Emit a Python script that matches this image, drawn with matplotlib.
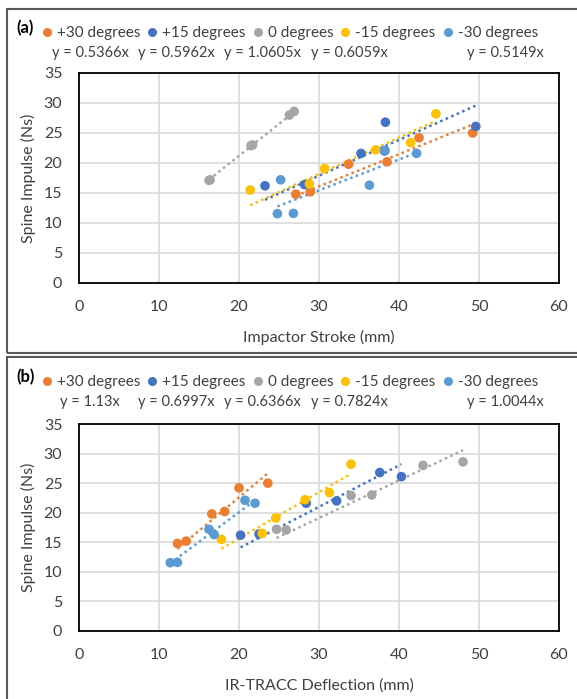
import matplotlib
matplotlib.use("Agg")
import matplotlib.pyplot as plt
from matplotlib.lines import Line2D
from matplotlib.patches import Rectangle

plt.rcParams['font.family'] = ['Lato', 'DejaVu Sans']

# series names and colours (Office palette)
series = ['+30 degrees', '+15 degrees', '0 degrees', '-15 degrees', '-30 degrees']
colors = ['#ED7D31', '#4472C4', '#A5A5A5', '#FFC000', '#5B9BD5']

# spine impulse (Ns) per test, same tests in both panels
impulse_p30 = [14.8, 15.2, 19.8, 20.2, 24.2, 25.0]
impulse_p15 = [16.2, 16.4, 21.6, 22.0, 26.8, 26.1]
impulse_0 = [17.2, 17.1, 22.9, 23.0, 28.0, 28.6]
impulse_m15 = [15.5, 16.5, 19.1, 22.2, 23.4, 28.2]
impulse_m30 = [11.55, 11.6, 17.2, 16.3, 22.1, 21.6]

# impactor stroke (mm)
stroke_p30 = [27.1, 28.9, 33.7, 38.5, 42.5, 49.2]
stroke_p15 = [23.25, 28.2, 35.25, 38.2, 38.3, 49.6]
stroke_0 = [16.4, 16.25, 21.5, 21.7, 26.3, 26.9]
stroke_m15 = [21.4, 28.8, 30.7, 37.1, 41.45, 44.6]
stroke_m30 = [24.8, 26.8, 25.2, 36.3, 38.25, 42.2]

# IR-TRACC deflection (mm)
defl_p30 = [12.3, 13.4, 16.6, 18.2, 20.0, 23.6]
defl_p15 = [20.2, 22.5, 28.4, 32.2, 37.6, 40.3]
defl_0 = [24.7, 25.9, 34.0, 36.6, 43.0, 48.0]
defl_m15 = [17.8, 22.9, 24.6, 28.25, 31.3, 34.0]
defl_m30 = [11.4, 12.3, 16.25, 16.9, 20.75, 22.0]

# fitted slopes (trendline through origin)
slopes_a = [0.5366, 0.5962, 1.0605, 0.6059, 0.5149]
slopes_b = [1.13, 0.6997, 0.6366, 0.7824, 1.0044]

impulses = [impulse_p30, impulse_p15, impulse_0, impulse_m15, impulse_m30]
strokes = [stroke_p30, stroke_p15, stroke_0, stroke_m15, stroke_m30]
defls = [defl_p30, defl_p15, defl_0, defl_m15, defl_m30]

W, H = 577, 699
fig = plt.figure(figsize=(W / 100, H / 100), dpi=100)


def fx(px):
    return px / W


def fy(py):
    return 1 - py / H


def panel(tag, top, ax_top, ax_bot, box_top, box_bot, xs, slopes, eq_x, xlabel, xlabel_y):
    # outer chart frame
    fig.patches.append(Rectangle((fx(7), fy(box_bot)), fx(590) - fx(7), fy(box_top) - fy(box_bot),
                                 transform=fig.transFigure, fill=False,
                                 edgecolor='#595959', linewidth=1.5))
    ax = fig.add_axes([fx(79), fy(ax_bot), fx(559) - fx(79), fy(ax_top) - fy(ax_bot)])
    ax.set_xlim(0, 60)
    ax.set_ylim(0, 35)
    ax.set_xticks(range(0, 61, 10))
    ax.set_yticks(range(0, 36, 5))
    ax.grid(True, color='#D9D9D9', linewidth=1.2)
    ax.set_axisbelow(True)
    for s in ax.spines.values():
        s.set_color('black')
        s.set_linewidth(1.3)
    ax.tick_params(length=0, labelsize=11.5, colors='#404040')
    ax.tick_params(axis='y', pad=12)
    ax.tick_params(axis='x', pad=12)
    ax.set_ylabel('Spine Impulse (Ns)', fontsize=11.5, color='#404040')
    ax.yaxis.set_label_coords((36 - 79) / 480, 0.5)
    ax.set_xlabel(xlabel, fontsize=11.5, color='#404040', va='center')
    ax.xaxis.set_label_coords(0.5, (ax_bot - xlabel_y) / (ax_bot - ax_top))

    for x, y, k, c in zip(xs, impulses, slopes, colors):
        ax.scatter(x, y, s=48, color=c, edgecolors='none', zorder=3)
        x0, x1 = min(x), max(x)
        ax.plot([x0, x1], [k * x0, k * x1], color=c, linewidth=1.8,
                linestyle=(0, (1, 1.4)), zorder=2)

    # legend row
    fig.text(fx(16), fy(top - 5), tag, fontsize=12, fontweight='bold',
             color='black', va='center', ha='left')
    handles = [Line2D([], [], marker='o', linestyle='none', markersize=6.5,
                      markerfacecolor=c, markeredgecolor='none') for c in colors]
    fig.legend(handles, series, loc='center left', ncol=5,
               bbox_to_anchor=(fx(42), fy(top)), bbox_transform=fig.transFigure,
               frameon=False, fontsize=11, handlelength=0.6, handletextpad=0.35,
               columnspacing=0.5, borderpad=0, borderaxespad=0,
               labelcolor='#404040')
    # fitted equations under the legend
    for ex, k in zip(eq_x, slopes):
        fig.text(fx(ex), fy(top + 20), f'y = {k}x', fontsize=10.5, color='#404040',
                 va='center', ha='center')
    return ax


panel('(a)', 33, 73, 283, 9, 353, strokes, slopes_a, [90, 176, 262, 349, 505],
      'Impactor Stroke (mm)', 337)
panel('(b)', 382, 424, 631, 357, 720, defls, slopes_b, [90, 176, 262, 349, 505],
      'IR-TRACC Deflection (mm)', 686)

fig.savefig('out.png', dpi=100, facecolor='white')
